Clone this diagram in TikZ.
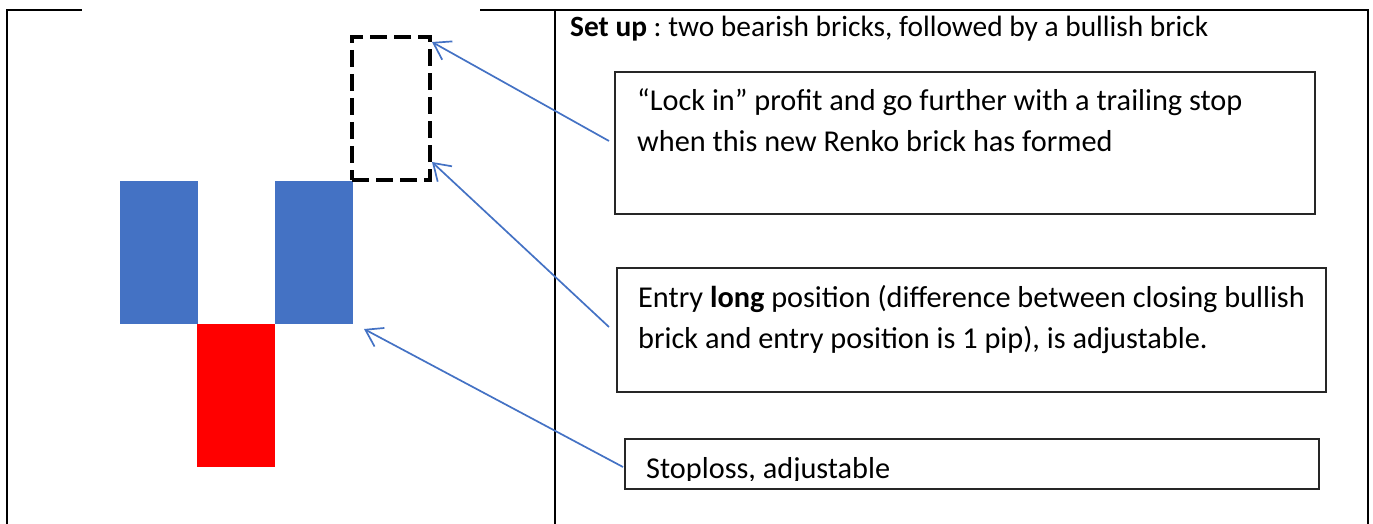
\documentclass[tikz,border=0pt]{standalone}
\usepackage{fontspec}
\setmainfont{Carlito}
\usepackage{tikz}
\usetikzlibrary{arrows.meta}
\pgfdeclarelayer{edgelayer}
\pgfdeclarelayer{nodelayer}
\pgfsetlayers{edgelayer,nodelayer,main}
\definecolor{brickblue}{RGB}{68,114,196}
\definecolor{brickred}{RGB}{255,0,0}
\frenchspacing
\tikzstyle{none}=[inner sep=0pt]
\tikzstyle{bull brick}=[rectangle, inner sep=0pt, outer sep=0pt, minimum width=78pt, minimum height=143pt, fill=brickblue]
\tikzstyle{bear brick}=[rectangle, inner sep=0pt, outer sep=0pt, minimum width=78pt, minimum height=143pt, fill=brickred]
\tikzstyle{new brick}=[rectangle, inner sep=0pt, outer sep=0pt, minimum width=78pt, minimum height=143pt, draw=black, line width=4pt, dash pattern=on 17pt off 7pt]
\tikzstyle{note}=[rectangle, inner sep=0pt, outer sep=0pt, draw=black!85, line width=1.3pt]
\tikzstyle{note text}=[inner sep=0pt, anchor=base west, align=left, font=\fontsize{30.3}{40.5}\selectfont]
\tikzstyle{pointer}=[draw=brickblue, line width=1.7pt, -{Straight Barb[length=16pt,width=21pt]}]
\tikzstyle{frame}=[line width=2.5pt]

\begin{document}
\begin{tikzpicture}[x=1pt, y=-1pt]
	\useasboundingbox (0, 0) rectangle (1373, 524);
	\begin{pgfonlayer}{nodelayer}
		\node [style=bull brick] (0) at (158.5, 252.5) {};
		\node [style=bull brick] (1) at (314, 252.5) {};
		\node [style=bear brick] (2) at (236, 395.5) {};
		\node [style=new brick] (3) at (391, 108.5) {};
		\node [style=note text, font=\fontsize{29.4}{40.5}\selectfont] (4) at (570, 37) {\textbf{Set up} : two bearish bricks, followed by a bullish brick};
		\node [style=note, minimum width=700pt, minimum height=142pt] (5) at (965, 143) {};
		\node [style=note, minimum width=709pt, minimum height=124pt] (6) at (971.5, 330) {};
		\node [style=note, minimum width=694pt, minimum height=50pt] (7) at (972, 464) {};
		\node [style=note text] (8) at (637, 151) {“Lock in” profit and go further with a trailing stop\\when this new Renko brick has formed};
		\node [style=note text] (9) at (638, 348) {Entry \textbf{long} position (difference between closing bullish\\brick and entry position is 1 pip), is adjustable.};
		\begin{scope}
			\clip (7.north west) rectangle ([yshift=9pt]7.south east);
			\node [style=note text] (10) at (646, 478) {Stoploss, adjustable};
		\end{scope}
	\end{pgfonlayer}
	\begin{pgfonlayer}{edgelayer}
		\draw [style=frame] (7, 524) -- (7, 10) -- (82, 10);
		\draw [style=frame] (480, 10) -- (1368, 10) -- (1368, 524);
		\draw [line width=2pt] (555, 10) -- (555, 524);
		\draw [style=pointer] ([xshift=-6pt, yshift=2pt]5.west) to ([xshift=2pt, yshift=-5pt]3.north east);
		\draw [style=pointer] ([xshift=-8pt, yshift=3pt]6.west) to ([xshift=2pt, yshift=18pt]3.south east);
		\draw [style=pointer] ([xshift=-2pt, yshift=-3pt]7.west) to ([xshift=11pt, yshift=-5pt]1.south east);
	\end{pgfonlayer}
\end{tikzpicture}
\end{document}
